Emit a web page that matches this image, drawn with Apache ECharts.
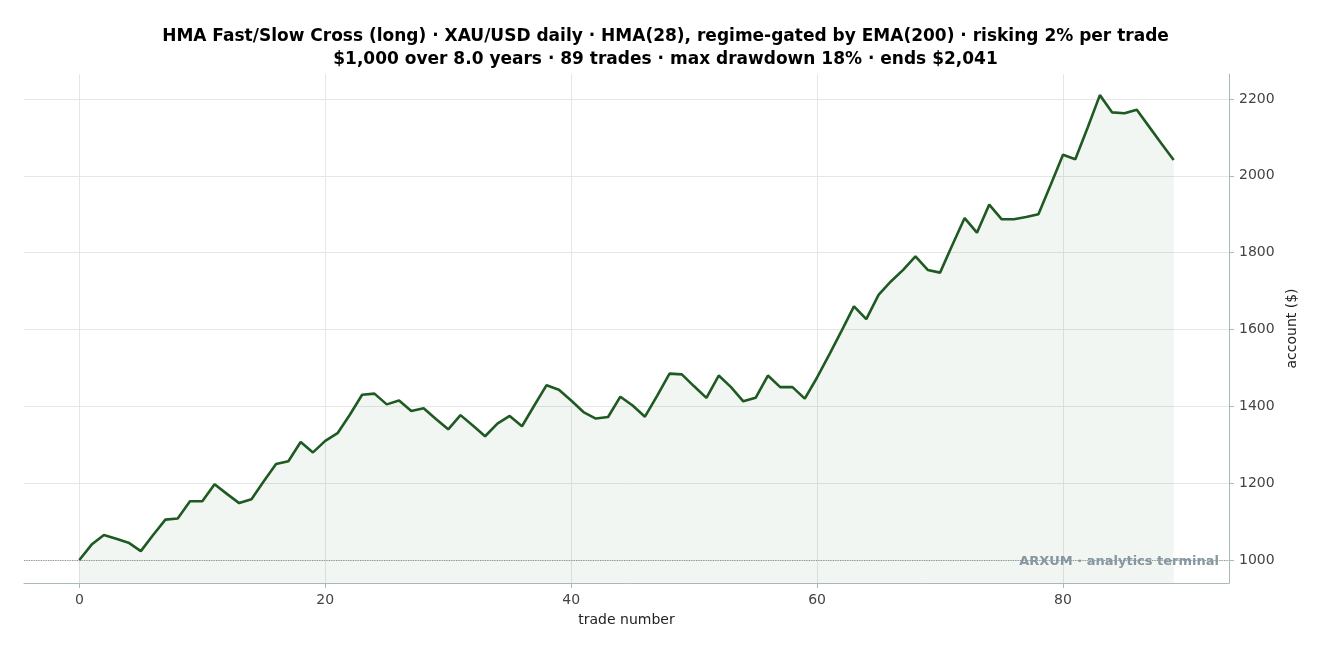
<!DOCTYPE html>
<html><head><meta charset="utf-8">
<script src="https://cdn.jsdelivr.net/npm/echarts@6/dist/echarts.min.js"></script>
<style>html,body{margin:0;padding:0;background:#fff}#c{width:1331px;height:658px}</style>
</head><body><div id="c"></div>
<script>
const titleLines = ["HMA Fast/Slow Cross (long) · XAU/USD daily · HMA(28), regime-gated by EMA(200) · risking 2% per trade",
  "$1,000 over 8.0 years · 89 trades · max drawdown 18% · ends $2,041"];
const equity = [1000,1040,1065,1055,1045,1023,1065,1105,1108,1153,1153,1197,1172,1148,1158,1205,1250,1257,1307,1280,
  1310,1330,1378,1430,1433,1405,1415,1388,1395,1367,1340,1377,1350,1322,1355,1375,1348,1402,1455,1443,
  1415,1385,1368,1372,1425,1402,1373,1428,1485,1483,1452,1422,1480,1450,1413,1422,1480,1450,1450,1420,
  1475,1535,1597,1660,1627,1690,1725,1755,1790,1755,1748,1820,1890,1852,1925,1887,1887,1893,1900,1977,
  2055,2043,2125,2210,2165,2163,2172,2128,2084,2041];
const xTicks = [0,20,40,60,80];
const yTicks = [1000,1200,1400,1600,1800,2000,2200];
const startValue = 1000;
const watermark = "ARXUM · analytics terminal";

const data = equity.map((v,i)=>[i,v]);
const gridColor = '#e6e6e6';
const chart = echarts.init(document.getElementById('c'));
chart.setOption({
  animation:false,
  textStyle:{fontFamily:'DejaVu Sans'},
  title:{text:titleLines.join('\n'),left:'center',top:20,
    textStyle:{fontSize:17,fontWeight:'bold',color:'#000',lineHeight:23,fontFamily:'DejaVu Sans'}},
  grid:{left:24,right:102,top:74,bottom:75},
  xAxis:{type:'value',min:-4.5,max:93.5,name:'trade number',nameLocation:'middle',nameGap:30,
    nameTextStyle:{fontSize:14,color:'#222'},
    axisLine:{show:true,onZero:false,lineStyle:{color:'#a9b8b8'}},
    axisTick:{show:true,customValues:xTicks,lineStyle:{color:'#a9b8b8'}},
    axisLabel:{customValues:xTicks,fontSize:14,color:'#444',margin:10,formatter:v=>String(v)},
    splitLine:{show:false}},
  yAxis:{type:'value',position:'right',min:940,max:2265,name:'account ($)',nameLocation:'middle',nameGap:52,
    nameRotate:90,nameTextStyle:{fontSize:14,color:'#222'},
    axisLine:{show:true,onZero:false,lineStyle:{color:'#a9b8b8'}},
    axisTick:{show:true,customValues:yTicks,lineStyle:{color:'#a9b8b8'}},
    axisLabel:{customValues:yTicks,fontSize:14,color:'#444',margin:10,formatter:v=>String(v)},
    splitLine:{show:false}},
  series:[
    {type:'line',data:[],silent:true,z:0,
     markLine:{silent:true,symbol:'none',label:{show:false},z:0,
       lineStyle:{color:gridColor,type:'solid',width:1},
       data:[...yTicks.map(v=>({yAxis:v})),...xTicks.map(v=>({xAxis:v}))]}},
    {type:'line',data:data,showSymbol:false,symbol:'none',z:3,
     lineStyle:{color:'#1e5a22',width:2.6},
     areaStyle:{color:'rgba(40,110,60,0.09)',origin:'start'},
     markLine:{silent:true,symbol:'none',label:{show:false},z:1,
       lineStyle:{color:'#8a9a9a',type:'dotted',width:1.2},
       data:[{yAxis:startValue}]}}
  ],
  graphic:[{type:'text',right:112,top:555,z:10,style:{text:watermark,fill:'#8797a0',
    font:'bold 13px "DejaVu Sans"',textAlign:'right'}}]
});
</script></body></html>
